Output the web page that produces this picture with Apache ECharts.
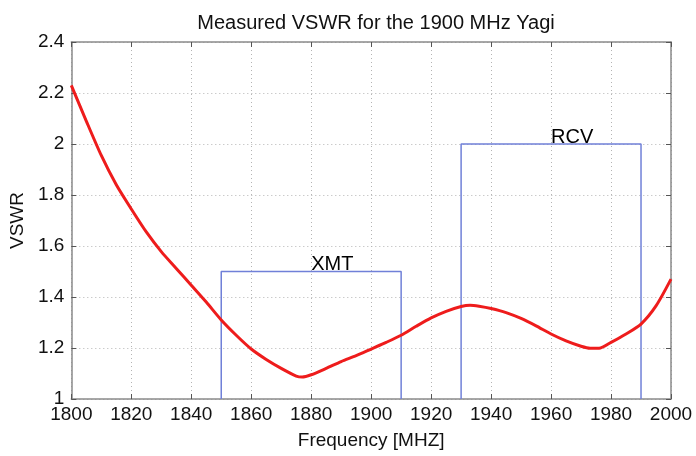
<!DOCTYPE html>
<html>
<head>
<meta charset="utf-8">
<script src="https://cdn.jsdelivr.net/npm/echarts@6/dist/echarts.min.js"></script>
<style>
  html, body { margin: 0; padding: 0; background: #fff; }
  #chart { width: 696px; height: 456px; }
</style>
</head>
<body>
<div id="chart"></div>
<script>
// measured curve
const freq = [1800, 1805, 1810, 1815, 1820, 1825, 1830, 1835, 1840, 1845,
  1850, 1855, 1860, 1865, 1870, 1875, 1877, 1880, 1885, 1890, 1895, 1900, 1905, 1910, 1915,
  1920, 1925, 1930, 1933, 1936, 1940, 1945, 1950, 1955, 1960, 1965, 1970, 1973, 1976, 1980,
  1985, 1990, 1995, 2000];
const vswr = [2.23, 2.09, 1.955, 1.84, 1.745, 1.655, 1.578, 1.512, 1.446, 1.38,
  1.31, 1.25, 1.196, 1.155, 1.12, 1.09, 1.086, 1.095, 1.12, 1.147, 1.17, 1.196, 1.222, 1.25, 1.285,
  1.318, 1.344, 1.363, 1.368, 1.364, 1.355, 1.339, 1.316, 1.287, 1.255, 1.228, 1.207, 1.199, 1.199, 1.222,
  1.255, 1.294, 1.365, 1.47];

// band boxes
const xmtX = [1850, 1850, 1910, 1910];
const xmtY = [1, 1.5, 1.5, 1];
const rcvX = [1930, 1930, 1990, 1990];
const rcvY = [1, 2, 2, 1];
const bandLabels = ['XMT', 'RCV'];
const labelX = [1880, 1960];
const labelY = [1.5, 2];

const xTicks = { min: 1800, max: 2000, interval: 20 };
const yTicks = { min: 1, max: 2.4, interval: 0.2 };

const zip = (a, b) => a.map((v, i) => [v, b[i]]);

const font = 'Liberation Sans, Arial, sans-serif';
const axisGrey = '#8a8a8a';
const boxBlue = '#7080d8';

const chart = echarts.init(document.getElementById('chart'), null, { renderer: 'canvas' });

const baseX = {
  type: 'value', min: xTicks.min, max: xTicks.max, interval: xTicks.interval,
  axisLine: { show: true, onZero: false, lineStyle: { color: axisGrey, width: 1.5 } },
  axisTick: { show: true, inside: true, length: 5, lineStyle: { color: '#555' } }
};
const baseY = {
  type: 'value', min: yTicks.min, max: yTicks.max, interval: yTicks.interval,
  axisLine: { show: true, onZero: false, lineStyle: { color: axisGrey, width: 1.5 } },
  axisTick: { show: true, inside: true, length: 5, lineStyle: { color: '#555' } }
};

chart.setOption({
  animation: false,
  backgroundColor: '#fff',
  title: {
    text: 'Measured VSWR for the 1900 MHz Yagi',
    left: 371, textAlign: 'center', top: 8,
    textStyle: { fontFamily: font, fontSize: 20, fontWeight: 'normal', color: '#111' }
  },
  grid: { left: 70, top: 42, right: 25, bottom: 57 },
  xAxis: [
    Object.assign({}, baseX, {
      position: 'bottom',
      name: 'Frequency [MHZ]', nameLocation: 'middle', nameGap: 32,
      nameTextStyle: { fontFamily: font, fontSize: 19, color: '#111' },
      axisLabel: { fontFamily: font, fontSize: 19, color: '#111', margin: 6, formatter: v => String(v) },
      splitLine: { show: true, lineStyle: { color: '#b4b4b4', type: [1, 3], width: 1 } }
    }),
    Object.assign({}, baseX, {
      position: 'top',
      axisLabel: { show: false },
      splitLine: { show: false }
    })
  ],
  yAxis: [
    Object.assign({}, baseY, {
      position: 'left',
      name: 'VSWR', nameLocation: 'middle', nameGap: 36,
      nameTextStyle: { fontFamily: font, fontSize: 19, color: '#111' },
      axisLabel: { fontFamily: font, fontSize: 19, color: '#111', margin: 7 },
      splitLine: { show: true, lineStyle: { color: '#b4b4b4', type: [1, 3], width: 1 } }
    }),
    Object.assign({}, baseY, {
      position: 'right',
      axisLabel: { show: false },
      splitLine: { show: false }
    })
  ],
  series: [
    {
      name: 'XMT', type: 'line', data: zip(xmtX, xmtY), symbol: 'none',
      lineStyle: { color: boxBlue, width: 1.5 }, z: 2
    },
    {
      name: 'RCV', type: 'line', data: zip(rcvX, rcvY), symbol: 'none',
      lineStyle: { color: boxBlue, width: 1.5 }, z: 2
    },
    {
      name: 'labels', type: 'scatter', symbolSize: 0,
      itemStyle: { opacity: 1 },
      data: bandLabels.map((t, i) => ({ value: [labelX[i], labelY[i]], name: t })),
      label: {
        show: true, position: 'top', distance: 0, align: 'left', offset: [0, 3],
        formatter: p => p.name,
        fontFamily: font, fontSize: 20, color: '#000'
      },
      z: 4
    },
    {
      name: 'VSWR', type: 'line', data: zip(freq, vswr), symbol: 'none', smooth: 0.25,
      lineStyle: { color: '#ee1c1c', width: 3 }, z: 3
    }
  ]
});
</script>
</body>
</html>
